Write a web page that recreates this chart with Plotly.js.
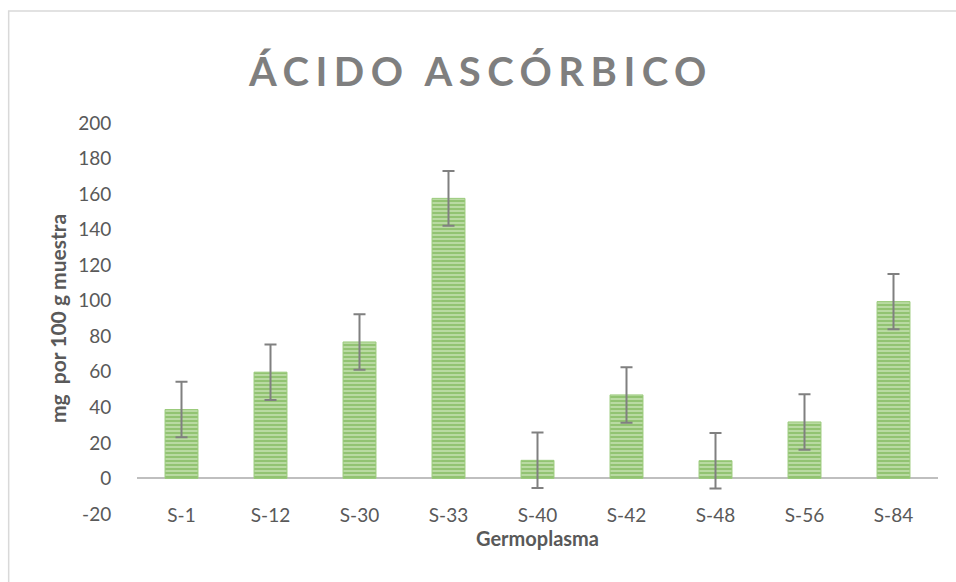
<!DOCTYPE html>
<html>
<head>
<meta charset="utf-8">
<script src="https://cdn.plot.ly/plotly-3.0.1.min.js"></script>
<style>
body{margin:0;padding:0;background:#fff;}
#chart{width:956px;height:582px;}
.gtitle{letter-spacing:6.5px;}
</style>
</head>
<body>
<div id="chart"></div>
<script>
const categories = ["S-1","S-12","S-30","S-33","S-40","S-42","S-48","S-56","S-84"];
const values = [38.8, 59.8, 76.8, 157.6, 10.2, 47.0, 10.0, 31.8, 99.5];
const errors = [15.6, 15.6, 15.6, 15.4, 15.6, 15.6, 15.6, 15.6, 15.6];
const yTicks = [-20, 0, 20, 40, 60, 80, 100, 120, 140, 160, 180, 200];

const W = 956, H = 582;
const m = {l: 136.5, r: 17.5, t: 123, b: 68};
const pw = W - m.l - m.r, ph = H - m.t - m.b;

const trace = {
  type: 'bar',
  x: categories,
  y: values,
  marker: {
    color: '#C5E0B4',
    pattern: {shape: '-', fgcolor: '#62A536', bgcolor: '#C3E0AE', size: 4, solidity: 0.6, fillmode: 'overlay'},
    line: {color: '#9BCB7C', width: 1}
  },
  error_y: {type: 'data', array: errors, visible: true, color: '#808080', thickness: 2, width: 6},
  hoverinfo: 'x+y'
};

const layout = {
  width: W, height: H,
  margin: m,
  paper_bgcolor: '#fff', plot_bgcolor: '#fff',
  showlegend: false,
  bargap: 0.63,
  font: {family: 'Lato, "Open Sans", sans-serif', color: '#595959'},
  title: {
    text: 'ÁCIDO ASCÓRBICO',
    font: {family: 'Lato, "Open Sans", sans-serif', size: 40, color: '#7F7F7F', weight: 'bold'},
    x: 481 / W, xref: 'container', xanchor: 'center',
    y: 1 - 72 / H, yref: 'container', yanchor: 'middle'
  },
  xaxis: {
    type: 'category',
    anchor: 'free', position: 0.03,
    showline: false, showgrid: false, ticks: '',
    tickfont: {size: 19, color: '#595959'},
    title: {text: '<b>Germoplasma</b>', font: {size: 20, color: '#595959'}, standoff: 2}
  },
  yaxis: {
    range: [-20, 200],
    tickvals: yTicks,
    ticktext: yTicks.map(String),
    showgrid: false, showline: false,
    zeroline: true, zerolinecolor: '#BFBFBF', zerolinewidth: 2,
    ticks: 'outside', ticklen: 21, tickcolor: 'rgba(0,0,0,0)',
    tickfont: {size: 19, color: '#595959'},
    title: {text: '<b>mg&nbsp; por 100 g muestra</b>', font: {size: 21, color: '#595959'}, standoff: 5}
  },
  shapes: [{
    type: 'rect', xref: 'paper', yref: 'paper', layer: 'below',
    x0: (8 - m.l) / pw, x1: (W + 20 - m.l) / pw,
    y0: -(m.b + 20) / ph, y1: (H - 11 - m.b) / ph,
    line: {color: '#D9D9D9', width: 1.5}, fillcolor: 'rgba(0,0,0,0)'
  }]
};

Plotly.newPlot('chart', [trace], layout, {displayModeBar: false, staticPlot: true});
</script>
</body>
</html>
